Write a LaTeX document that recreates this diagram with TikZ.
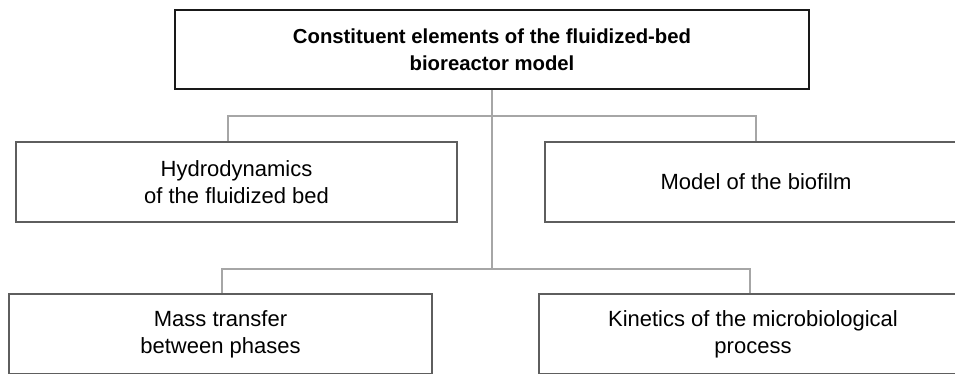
\documentclass[tikz,border=0pt]{standalone}
\usepackage{fontspec}
\setmainfont{Liberation Sans}
\usetikzlibrary{calc}

\definecolor{boxgray}{HTML}{5E5E5E}
\definecolor{linegray}{HTML}{A6A6A6}

\begin{document}
\begin{tikzpicture}[x=1pt,y=-1pt,
	mainbox/.style={rectangle,draw=black!90,line width=2.4pt,inner sep=0pt,align=center,
		font=\fontsize{20.3}{27}\selectfont\bfseries},
	partbox/.style={rectangle,draw=boxgray,line width=1.8pt,inner sep=0pt,align=center,
		minimum height=80pt,font=\fontsize{22}{27}\selectfont},
	link/.style={draw=linegray,line width=1.1pt}]

\useasboundingbox (0,0) rectangle (955,374);
\clip (0,0) rectangle (955,374);

%connectors
\coordinate (split1) at (492,116);
\coordinate (split2) at (492,269);

\node[mainbox,minimum width=634pt,minimum height=79pt](model) at (492,49.5){Constituent elements of the fluidized-bed\\bioreactor model};

\node[partbox,minimum width=441pt](hydro) at (236.5,182){Hydrodynamics\\of the fluidized bed};
\node[partbox,minimum width=422pt](biofilm) at (756,182){Model of the biofilm};

\node[partbox,minimum width=423pt](mass) at (220.5,334){Mass transfer\\between phases};
\node[partbox,minimum width=428pt](kinetics) at (753,334){Kinetics of the microbiological\\process};

%draw tree lines
\draw[link](model.south)--(split2);
\draw[link](split1)-|([xshift=-8.5pt]hydro.north);
\draw[link](split1)-|(biofilm.north);
\draw[link](split2)-|([xshift=1.5pt]mass.north);
\draw[link](split2)-|([xshift=-3pt]kinetics.north);
\end{tikzpicture}
\end{document}
